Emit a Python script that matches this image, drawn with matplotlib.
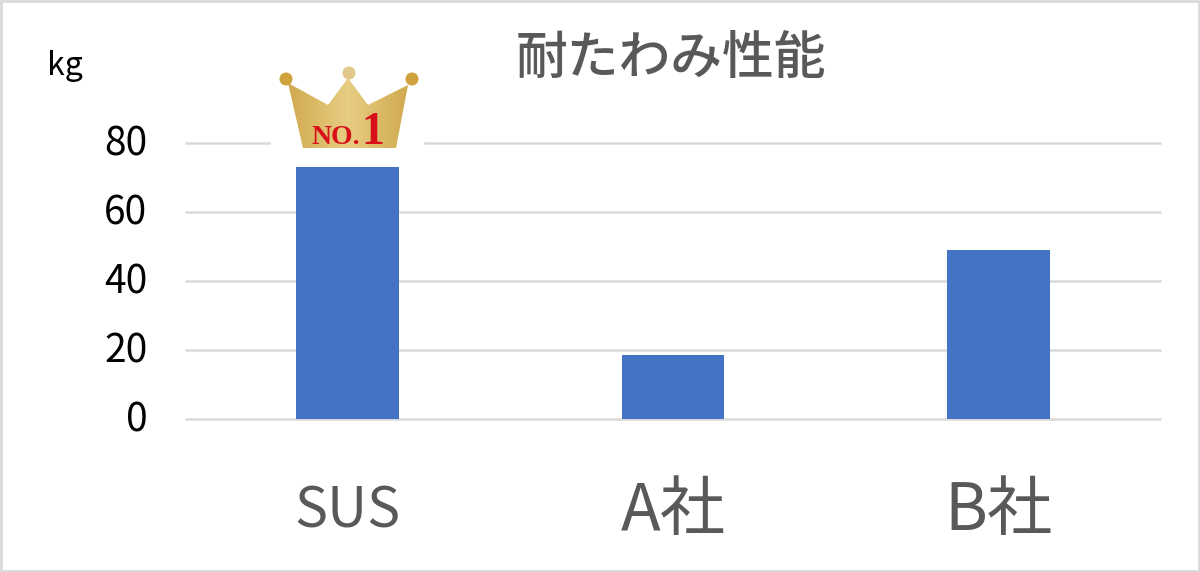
import numpy as np
import matplotlib
matplotlib.use('Agg')
import matplotlib.pyplot as plt
from matplotlib.patches import Polygon, Circle, Rectangle
from matplotlib.transforms import ScaledTranslation

plt.rcParams['font.family'] = ['Noto Sans CJK JP', 'DejaVu Sans']

categories = ['SUS', 'A社', 'B社']
category_sizes = [40, 47, 47]
values = [73, 18.5, 49]
yticks = [0, 20, 40, 60, 80]
title = '耐たわみ性能'
unit = 'kg'

W, H = 1200, 572
fig = plt.figure(figsize=(W/100, H/100), dpi=100, facecolor='white')
ax = fig.add_axes([185/W, 1-418.5/H, (1161-185)/W, (418.5-143)/H])
ax.set_xlim(-0.5, 2.5)
ax.set_ylim(0, 80)
ax.bar(range(3), values, width=0.315, color='#4472C4', zorder=3)
ax.set_yticks(yticks)
ax.set_xticks(range(3))
ax.set_xticklabels(categories, color='#595959')
for lab, size in zip(ax.get_xticklabels(), category_sizes):
    lab.set_fontsize(size)
    lab.set_verticalalignment('center')
ax.tick_params(axis='x', length=0, pad=67)
ax.tick_params(axis='y', length=0, pad=27, labelsize=28, labelcolor='black')
ax.grid(axis='y', color='#D9D9D9', lw=1.8, zorder=0)
for line in ax.get_ygridlines():
    line.set_clip_on(False)
    line.set_solid_capstyle('butt')
up = ScaledTranslation(0, 2/72, fig.dpi_scale_trans)
for lab in ax.get_yticklabels():
    lab.set_transform(lab.get_transform() + up)
for s in ax.spines.values():
    s.set_visible(False)

fig.text(671/W, 1-59/H, title, fontsize=37.3, color='#595959', ha='center', va='center', weight='medium')
fig.text(65/W, 1-66/H, unit, fontsize=23, color='black', ha='center', va='center')

# crown (figure pixel coords)
ov = fig.add_axes([0, 0, 1, 1], facecolor='none')
ov.set_xlim(0, W); ov.set_ylim(H, 0); ov.axis('off')
ov.add_patch(Rectangle((271, 130), 152, 22, color='white', zorder=1))
crown = Polygon([(288, 83), (328, 105), (348, 78), (368, 105), (408, 85),
                 (396, 148), (303, 148)], closed=True, fc='none', ec='none', zorder=2)
ov.add_patch(crown)
edge = np.array([208, 170, 80]) / 255
mid = np.array([232, 205, 130]) / 255
t = np.abs(np.linspace(-1, 1, 64))[None, :, None]
grad = mid * (1 - t) + edge * t
im = ov.imshow(grad, extent=(288, 408, 148, 78), aspect='auto', zorder=2, interpolation='bilinear')
im.set_clip_path(crown)
ov.set_xlim(0, W); ov.set_ylim(H, 0)
for x, y, r, c in [(286, 79, 6.5, '#CFA23E'), (349, 73, 6.5, '#E2C98A'), (412, 79, 6.5, '#CFA23E')]:
    ov.add_patch(Circle((x, y), r, fc=c, ec='none', zorder=3))
ov.text(336, 144, 'NO.', fontsize=20, color='#D8101A', family='Liberation Serif', weight='bold',
        ha='center', va='baseline', zorder=4)
ov.text(373, 144, '1', fontsize=33, color='#D8101A', family='Liberation Serif', weight='bold',
        ha='center', va='baseline', zorder=4)
# frame
ov.add_patch(Rectangle((1, 1), W-2, H-2, fill=False, ec='#D9D9D9', lw=2))

fig.savefig('out.png', dpi=100)
